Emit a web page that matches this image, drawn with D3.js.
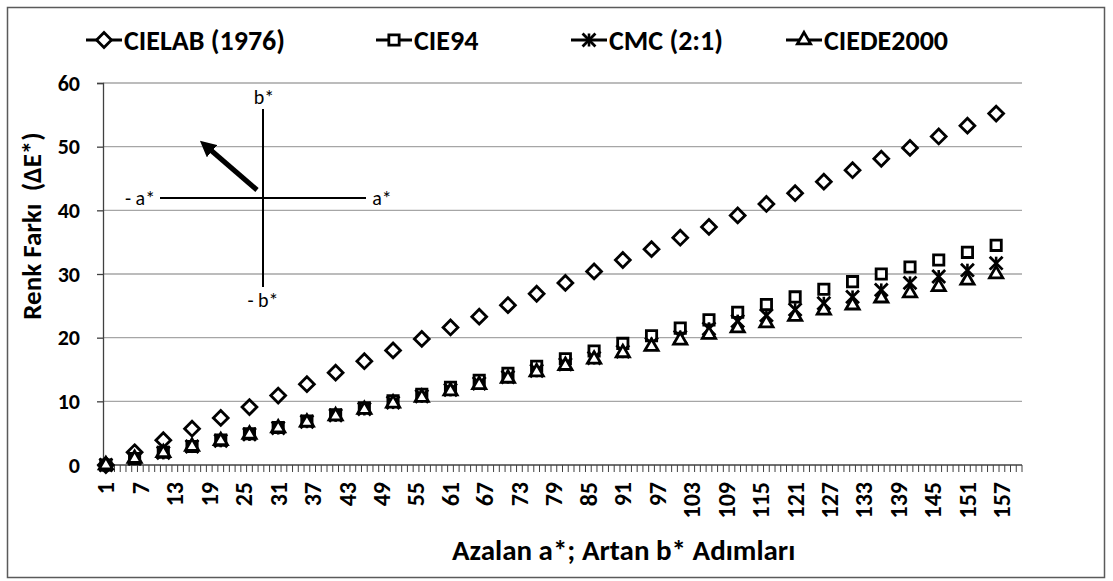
<!DOCTYPE html>
<html>
<head>
<meta charset="utf-8">
<script src="https://cdn.jsdelivr.net/npm/d3@7"></script>
<style>
  html, body { margin: 0; padding: 0; background: #fff; }
  svg { display: block; }
  text { font-family: Carlito, "Open Sans", sans-serif; }
</style>
</head>
<body>
<svg id="chart" width="1113" height="581"></svg>
<script>
// ---- data ----
const categories = d3.range(1, 161);                 // step numbers 1..160
const tickLabels = d3.range(1, 161, 6);             // 1, 7, 13, ... 157
const sampleSteps = d3.range(1, 157, 5);            // 1, 6, 11, ... 156
const seriesNames = ["CIELAB (1976)", "CIE94", "CMC (2:1)", "CIEDE2000"];
const cielab = [0, 2.0, 3.9, 5.7, 7.4, 9.1, 10.9, 12.7, 14.5, 16.3, 18.0, 19.8, 21.6, 23.3, 25.1, 26.9,
                28.6, 30.4, 32.2, 33.9, 35.7, 37.4, 39.2, 41.0, 42.7, 44.5, 46.3, 48.1, 49.8, 51.6, 53.3, 55.2];
const cie94  = [0, 1.0, 2.0, 2.9, 3.9, 4.9, 5.9, 6.9, 7.9, 9.0, 10.1, 11.1, 12.2, 13.3, 14.4, 15.5,
                16.7, 17.9, 19.1, 20.3, 21.5, 22.8, 24.0, 25.2, 26.4, 27.6, 28.8, 30.0, 31.1, 32.2, 33.4, 34.5];
const cmc    = [0, 1.0, 1.9, 2.9, 3.8, 4.8, 5.8, 6.8, 7.8, 8.8, 9.8, 10.8, 11.8, 12.8, 13.8, 14.8,
                15.8, 16.8, 17.8, 19.0, 20.1, 21.4, 22.6, 23.5, 24.4, 25.4, 26.4, 27.5, 28.6, 29.6, 30.6, 31.7];
const ciede  = [0, 1.0, 1.9, 2.9, 3.8, 4.8, 5.8, 6.7, 7.7, 8.7, 9.7, 10.6, 11.6, 12.6, 13.6, 14.6,
                15.6, 16.6, 17.6, 18.6, 19.6, 20.5, 21.5, 22.3, 23.3, 24.3, 25.1, 26.2, 27.0, 28.0, 29.0, 30.0];
const yTicks = [0, 10, 20, 30, 40, 50, 60];
const xTitle = "Azalan a*; Artan b* Adımları";
const yTitle = "Renk Farkı  (ΔE*)";

const series = [
  { name: seriesNames[0], values: cielab, shape: "diamond" },
  { name: seriesNames[1], values: cie94,  shape: "square" },
  { name: seriesNames[2], values: cmc,    shape: "star" },
  { name: seriesNames[3], values: ciede,  shape: "triangle" }
];

// ---- layout ----
const svg = d3.select("#chart");
const plot = { left: 103, right: 1022, top: 83, bottom: 465 };

svg.append("rect").attr("x", 7.5).attr("y", 7.5).attr("width", 1097).attr("height", 570)
  .attr("fill", "#fff").attr("stroke", "#5a5a5a").attr("stroke-width", 1.5);

const x = d3.scaleBand().domain(categories).range([plot.left, plot.right]).paddingInner(0).paddingOuter(0);
const y = d3.scaleLinear().domain([0, 60]).range([plot.bottom, plot.top]);
const cx = c => x(c) + x.bandwidth() / 2;

// gridlines
svg.append("g").selectAll("line").data(yTicks.filter(t => t > 0)).join("line")
  .attr("x1", plot.left).attr("x2", plot.right)
  .attr("y1", d => y(d)).attr("y2", d => y(d))
  .attr("stroke", "#a6a6a6").attr("stroke-width", 1.3);

// y axis
const yAxis = d3.axisLeft(y).tickValues(yTicks).tickSize(6).tickPadding(17).tickFormat(d3.format("d"));
const gy = svg.append("g").attr("transform", `translate(${plot.left},0)`).call(yAxis);
gy.select(".domain").attr("stroke", "#404040").attr("stroke-width", 1.3);
gy.selectAll(".tick line").attr("stroke", "#404040").attr("stroke-width", 1.3);
gy.selectAll(".tick text").attr("font-size", 22).attr("font-weight", "bold").attr("fill", "#000")
  .style("font-family", 'Carlito, "Open Sans", sans-serif');

// x axis : tick marks at every category boundary
const gx = svg.append("g").attr("transform", `translate(0,${plot.bottom})`);
gx.append("line").attr("x1", plot.left).attr("x2", plot.right).attr("y1", 0).attr("y2", 0)
  .attr("stroke", "#404040").attr("stroke-width", 1.3);
gx.selectAll("line.minor").data(categories.concat([null])).join("line").attr("class", "minor")
  .attr("x1", (d, i) => plot.left + i * x.bandwidth()).attr("x2", (d, i) => plot.left + i * x.bandwidth())
  .attr("y1", 0).attr("y2", 7).attr("stroke", "#404040").attr("stroke-width", 1);
gx.selectAll("text").data(tickLabels).join("text")
  .attr("transform", d => `translate(${cx(d)},${17}) rotate(-90)`)
  .attr("text-anchor", "end").attr("dy", "0.35em")
  .attr("font-size", 24).attr("font-weight", "bold").attr("fill", "#000")
  .text(d => d);

// axis titles
svg.append("text").attr("transform", `translate(41,226) rotate(-90)`)
  .attr("text-anchor", "middle").attr("font-size", 27).attr("font-weight", "bold").attr("fill", "#000")
  .style("white-space", "pre").text(yTitle);
svg.append("text").attr("x", 452).attr("y", 560)
  .attr("text-anchor", "start").attr("font-size", 29).attr("font-weight", "bold").attr("fill", "#000")
  .text(xTitle);

// markers
const sym = {
  diamond: d3.symbol().type(d3.symbolDiamond2).size(140),
  square: d3.symbol().type(d3.symbolSquare2).size(135),
  star: d3.symbol().type(d3.symbolTimes).size(110),
  triangle: d3.symbol().type(d3.symbolTriangle2).size(125)
};
function drawMarker(g, shape) {
  g.append("path").attr("d", sym[shape]()).attr("fill", shape === "star" ? "none" : "#fff")
    .attr("stroke", "#000").attr("stroke-width", 2.8).attr("stroke-linejoin", "miter");
  if (shape === "star") {
    g.append("line").attr("x1", 0).attr("x2", 0).attr("y1", -6.5).attr("y2", 6.5)
      .attr("stroke", "#000").attr("stroke-width", 2.6);
  }
}
series.forEach(s => {
  const g = svg.append("g");
  g.selectAll("g").data(s.values.map((v, i) => ({ step: sampleSteps[i], v }))).join("g")
    .attr("transform", d => `translate(${cx(d.step)},${y(d.v)})`)
    .each(function () { drawMarker(d3.select(this), s.shape); });
});

// legend
const legendX = [86, 376, 571, 786];
const leg = svg.append("g");
series.forEach((s, i) => {
  const g = leg.append("g").attr("transform", `translate(${legendX[i]},40)`);
  g.append("line").attr("x1", 0).attr("x2", 36).attr("y1", 0).attr("y2", 0)
    .attr("stroke", "#000").attr("stroke-width", 3.2);
  const m = g.append("g").attr("transform", "translate(18,0)");
  drawMarker(m, s.shape);
  g.append("text").attr("x", 38).attr("y", 0).attr("dy", "0.35em")
    .attr("font-size", 28).attr("font-weight", "bold").attr("fill", "#000").text(s.name);
});

// inset: a*/b* diagram with direction arrow
const inset = svg.append("g");
const ox = 263, oy = 198;
inset.append("line").attr("x1", 160).attr("x2", 366).attr("y1", oy).attr("y2", oy).attr("stroke", "#000").attr("stroke-width", 2);
inset.append("line").attr("x1", ox).attr("x2", ox).attr("y1", 109).attr("y2", 287).attr("stroke", "#000").attr("stroke-width", 2);
const lab = [["b*", ox + 1, 97], ["- b*", ox, 300], ["- a*", 140, oy], ["a*", 382, oy]];
inset.selectAll("text").data(lab).join("text")
  .attr("x", d => d[1]).attr("y", d => d[2]).attr("dy", "0.35em").attr("text-anchor", "middle")
  .attr("font-size", 20).attr("fill", "#000").style("font-family", 'Carlito, "Open Sans", sans-serif')
  .text(d => d[0]);
svg.append("defs").append("marker").attr("id", "ah").attr("viewBox", "0 0 10 10")
  .attr("refX", 5).attr("refY", 5).attr("markerWidth", 3.2).attr("markerHeight", 3.2).attr("orient", "auto")
  .append("path").attr("d", "M0,0 L10,5 L0,10 Z").attr("fill", "#000");
inset.append("line").attr("x1", 257).attr("y1", 190).attr("x2", 206).attr("y2", 146)
  .attr("stroke", "#000").attr("stroke-width", 5).attr("marker-end", "url(#ah)");
</script>
</body>
</html>
